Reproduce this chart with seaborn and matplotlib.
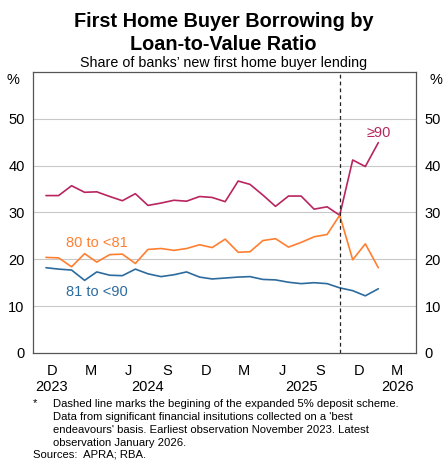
import pandas as pd
import matplotlib
matplotlib.use("Agg")
import matplotlib.pyplot as plt
import seaborn as sns

# monthly observations, Nov 2023 to Jan 2026
months = pd.date_range("2023-11-01", "2026-01-01", freq="MS")
ge90 = [33.6, 33.6, 35.7, 34.3, 34.4, 33.4, 32.5, 34.0, 31.5, 32.0, 32.6, 32.4, 33.4, 33.2,
        32.3, 36.7, 36.0, 33.7, 31.3, 33.5, 33.5, 30.7, 31.2, 29.4, 41.2, 39.8, 44.9]
ltv80_81 = [20.4, 20.3, 18.4, 21.2, 19.4, 21.0, 21.1, 19.1, 22.1, 22.3, 21.9, 22.3, 23.1, 22.5,
            24.3, 21.5, 21.6, 24.0, 24.4, 22.6, 23.6, 24.8, 25.3, 29.4, 19.9, 23.3, 18.2]
ltv81_90 = [18.2, 17.9, 17.7, 15.5, 17.3, 16.6, 16.5, 17.9, 16.9, 16.3, 16.7, 17.3, 16.2, 15.8,
            16.0, 16.2, 16.3, 15.7, 15.6, 15.1, 14.8, 15.0, 14.8, 13.9, 13.3, 12.2, 13.7]
series_names = ["≥90", "80 to <81", "81 to <90"]
series_colors = ["#b8255f", "#ff7f30", "#2c6b9e"]

quarter_letters = ["D", "M", "J", "S", "D", "M", "J", "S", "D", "M"]
year_labels = ["2023", "2024", "2025", "2026"]
scheme_start = pd.Timestamp("2025-10-01")

df = pd.DataFrame({"date": list(months) * 3,
                   "share": ge90 + ltv80_81 + ltv81_90,
                   "ltv": [n for n in series_names for _ in months]})

sns.set_theme(style="white")
plt.rcParams["font.family"] = ["Liberation Sans", "DejaVu Sans"]
plt.rcParams["text.color"] = "black"
plt.rcParams["xtick.color"] = "black"
plt.rcParams["ytick.color"] = "black"

fig = plt.figure(figsize=(4.47, 4.70), dpi=100)
ax = fig.add_axes([0.0738, 0.249, 0.857, 0.598])

ax.grid(False)
for v in range(10, 60, 10):
    ax.axhline(v, color="#c8c8c8", lw=0.8, zorder=0)

sns.lineplot(data=df, x="date", y="share", hue="ltv", hue_order=series_names,
             palette=series_colors, linewidth=1.2, legend=False, ax=ax)

ax.axvline(scheme_start, color="#222222", lw=0.9, ls=(0, (3, 2.5)), zorder=3)

x0, x1 = pd.Timestamp("2023-10-01"), pd.Timestamp("2026-04-01")
ax.set_xlim(x0, x1)
ax.set_ylim(0, 60)
ax.set_xlabel("")
ax.set_ylabel("")

# quarter boundaries as inward ticks, letters at quarter centres
qstarts = pd.date_range(x0, x1, freq="QS")
ax.set_xticks(qstarts[1:-1])
ax.set_xticklabels([])
ax.tick_params(axis="x", which="major", direction="in", length=4, width=0.9, color="#555555")
qcentres = [qstarts[i] + (qstarts[i + 1] - qstarts[i]) / 2 for i in range(len(qstarts) - 1)]
ax.set_xticks(qcentres, minor=True)
ax.set_xticklabels(quarter_letters, minor=True, fontsize=10.5)
ax.tick_params(axis="x", which="minor", length=0, pad=8)

trans = ax.get_xaxis_transform()
year_pos = [pd.Timestamp("2023-11-15"), pd.Timestamp("2024-07-01"),
            pd.Timestamp("2025-07-01"), pd.Timestamp("2026-02-15")]
for yp, lab in zip(year_pos, year_labels):
    ax.text(yp, -0.12, lab, transform=trans, ha="center", va="center", fontsize=10.5)

ax.set_yticks(range(0, 60, 10))
ax.tick_params(axis="y", length=0, labelsize=10.5, pad=6, labelright=True, right=False)

ytrans = ax.get_yaxis_transform()
ax.text(-0.035, 58.3, "%", transform=ytrans, ha="right", va="center", fontsize=10.5)
ax.text(1.035, 58.3, "%", transform=ytrans, ha="left", va="center", fontsize=10.5)

for s in ax.spines.values():
    s.set_visible(True)
    s.set_color("#555555")
    s.set_linewidth(0.9)

ax.text(pd.Timestamp("2026-01-01"), 46.9, "≥90", color=series_colors[0],
        ha="center", va="center", fontsize=10.5)
ax.text(pd.Timestamp("2024-03-01"), 23.5, "80 to <81", color=series_colors[1],
        ha="center", va="center", fontsize=10.5)
ax.text(pd.Timestamp("2024-03-01"), 13.1, "81 to <90", color=series_colors[2],
        ha="center", va="center", fontsize=10.5)

fig.text(0.5, 0.955, "First Home Buyer Borrowing by", ha="center", va="center",
         fontsize=14.3, fontweight="bold")
fig.text(0.5, 0.905, "Loan-to-Value Ratio", ha="center", va="center",
         fontsize=14.3, fontweight="bold")
fig.text(0.5, 0.867, "Share of banks\u2019 new first home buyer lending", ha="center",
         va="center", fontsize=10.25)

note = ("Dashed line marks the begining of the expanded 5% deposit scheme.\n"
        "Data from significant financial insitutions collected on a 'best\n"
        "endeavours' basis. Earliest observation November 2023. Latest\n"
        "observation January 2026.")
fig.text(0.074, 0.143, "*", ha="left", va="center", fontsize=8.1)
fig.text(0.118, 0.152, note, ha="left", va="top", fontsize=8.1, linespacing=1.38)
fig.text(0.074, 0.034, "Sources:  APRA; RBA.", ha="left", va="center", fontsize=8.1)

fig.savefig("out.png", dpi=100)
